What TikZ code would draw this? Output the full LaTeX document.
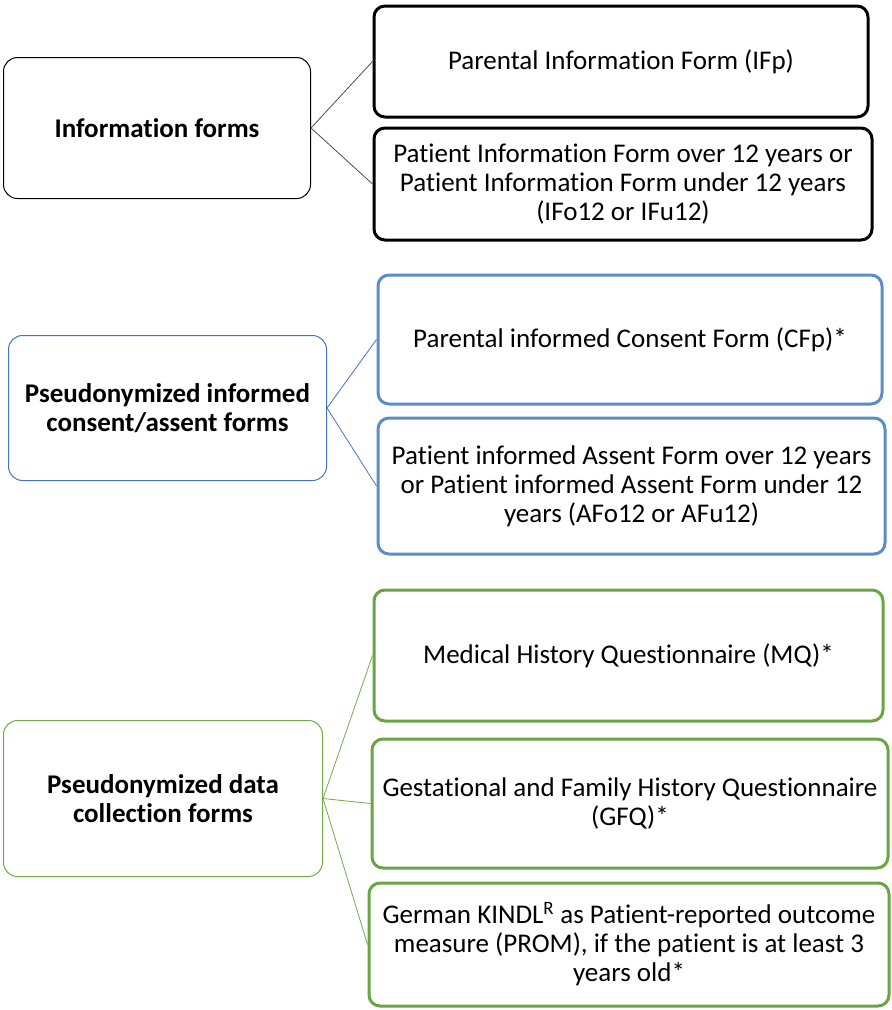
\documentclass[tikz,border=0pt]{standalone}
\usepackage{fontspec}
\setmainfont[Ligatures=NoCommon]{Carlito}
\definecolor{bluethin}{HTML}{4472C4}
\definecolor{bluethick}{HTML}{5B8DC6}
\definecolor{greenthin}{HTML}{70AD47}
\definecolor{greenthick}{HTML}{6AA543}
\begin{document}
\begin{tikzpicture}[x=1pt,y=-1pt,
  catbox/.style={draw, line width=1pt, rounded corners=14pt, inner sep=0pt, align=center,
    font=\fontsize{27}{29}\selectfont\bfseries},
  itembox/.style={draw, line width=3pt, rounded corners=11pt, inner sep=0pt, align=center,
    font=\fontsize{27}{29}\selectfont},
  conn/.style={line width=0.8pt}]
\path[use as bounding box] (0,0) rectangle (892,1010);
% group 1
\node[catbox, minimum width=307pt, minimum height=141pt] (L1) at (157,128) {Information forms};
\node[itembox, minimum width=494pt, minimum height=111pt] (R1) at (621,61.5) {Parental Information Form (IFp)};
\node[itembox, minimum width=498pt, minimum height=112pt] (R2) at (623,184) {Patient Information Form over 12 years or\\Patient Information Form under 12 years\\(IFo12 or IFu12)};
\draw[conn, black!70] (L1.east) -- (R1.west);
\draw[conn, black!70] (L1.east) -- (R2.west);
% group 2
\node[catbox, draw=bluethin, minimum width=318pt, minimum height=145pt] (L2) at (167.5,408) {Pseudonymized informed\\consent/assent forms};
\node[itembox, draw=bluethick, minimum width=504pt, minimum height=129pt] (R3) at (630,339.5) {Parental informed Consent Form (CFp)*};
\node[itembox, draw=bluethick, minimum width=507pt, minimum height=136pt] (R4) at (631.5,486) {Patient informed Assent Form over 12 years\\or Patient informed Assent Form under 12\\years (AFo12 or AFu12)};
\draw[conn, bluethin] (L2.east) -- (R3.west);
\draw[conn, bluethin] (L2.east) -- (R4.west);
% group 3
\node[catbox, draw=greenthin, minimum width=319pt, minimum height=156pt] (L3) at (163,798.5) {Pseudonymized data\\collection forms};
\node[itembox, draw=greenthick, minimum width=509pt, minimum height=131pt] (R5) at (628.5,655.5) {Medical History Questionnaire (MQ)*};
\node[itembox, draw=greenthick, minimum width=516pt, minimum height=129pt] (R6) at (630,803.5) {Gestational and Family History Questionnaire\\(GFQ)*};
\node[itembox, draw=greenthick, minimum width=520pt, minimum height=123pt] (R7) at (629,944.5) {German KINDL\textsuperscript{R} as Patient-reported outcome\\measure (PROM), if the patient is at least 3\\years old*};
\draw[conn, greenthin] (L3.east) -- (R5.west);
\draw[conn, greenthin] (L3.east) -- (R6.west);
\draw[conn, greenthin] (L3.east) -- (R7.west);
\end{tikzpicture}
\end{document}
